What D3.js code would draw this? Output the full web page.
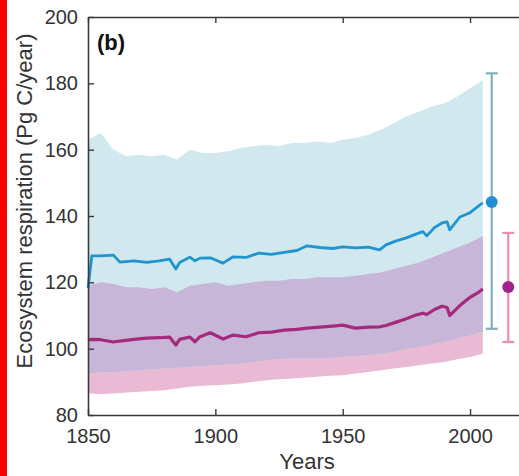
<!DOCTYPE html>
<html lang="en">
<head>
    <meta charset="UTF-8">
    <title>Ecosystem respiration</title>
    <script src="https://d3js.org/d3.v7.min.js"></script>
    <style>
        body { margin: 0; background: #fff; }
        svg { display: block; font-family: "Liberation Sans", Arial, sans-serif; }
        .tick text { fill: #333; font-size: 20px; }
    </style>
</head>
<body>
    <svg id="chart" width="519" height="476"></svg>

    <script>
        // band years (5-yr steps)
        const bandYears = [1850,1855,1860,1865,1870,1875,1880,1885,1890,1895,1900,1905,1910,1915,1920,1925,1930,1935,1940,1945,1950,1955,1960,1965,1970,1975,1980,1985,1990,1995,2000,2005];
        const blueUpper = [163,165,160,158,158.5,158,158.5,157,160,159,159,159.5,160.5,161,161.5,161,162,162,162.5,162,163,163.5,164.5,166,168,170,171.5,173,174,176,178.5,181];
        const blueLower = [92.5,92.8,93,93.2,93.5,93.8,94,94.2,94.5,94.8,95,95.2,95.5,96,96.5,96.8,97,97,97,97.2,97.5,97.8,98,98.5,99,99.8,100.5,101.2,102,103,104,105];
        const pinkUpper = [119,120,119.5,118.5,118.5,118,118.5,117,119,119.5,120,119,119.5,120,120.5,120.5,121,121,121.5,121.5,121.5,122,122.5,123,124,125,126,127.5,129,130.5,132,134];
        const pinkLower = [86.5,86.3,86.5,86.8,87,87.2,87.5,88,88.5,88.8,89,89.2,89.5,90,90.5,90.8,91,91.2,91.5,91.8,92,92.5,93,93.5,94,94.5,95,95.5,96,96.8,97.5,98.5];

        // mean lines
        const lineYears = [1850,1851.5,1855,1860,1862.5,1868,1873,1878,1882,1884.5,1886,1890,1892,1894,1898,1903,1907,1912,1917,1922,1927,1932,1936,1941,1946,1950,1955,1960,1964.5,1967,1971,1975,1979,1981.5,1983,1986,1989,1991,1992,1996,2000,2003,2005];
        const blueMean = [118.3,128,128,128.2,126.1,126.5,126,126.5,127,124,126,127.6,126.5,127.3,127.4,125.8,127.7,127.5,128.8,128.4,129,129.6,131,130.5,130.2,130.7,130.4,130.6,129.8,131.3,132.5,133.4,134.6,135.3,134,136.5,137.9,138.2,135.8,139.7,141,142.8,144];
        const purpleMean = [102.6,102.8,102.7,102,102.3,102.8,103.2,103.3,103.5,101.1,102.8,103.5,102.1,103.6,104.8,102.9,104.1,103.6,104.8,105,105.6,105.8,106.2,106.5,106.8,107.1,106.2,106.5,106.6,107,108,109,110.2,110.7,110.3,111.8,112.8,112.4,110,113,115.5,116.8,118];

        // error bars at the right
        const errYears = [2008.5, 2015];
        const errMid = [144.2, 118.6];
        const errLow = [106, 102];
        const errHigh = [183, 134.9];

        const xTicks = [1850, 1900, 1950, 2000];
        const yTicks = [80, 100, 120, 140, 160, 180, 200];

        const svg = d3.select('#chart');
        const plotLeft = 88, plotTop = 17, plotBottom = 415, plotRight = 521;

        const x = d3.scaleLinear().domain([1850, 2020]).range([plotLeft, plotRight]);
        const y = d3.scaleLinear().domain([80, 200]).range([plotBottom, plotTop]);

        // red strip down the left edge
        svg.append('rect').attr('x', 0).attr('y', 0).attr('width', 7).attr('height', 476).attr('fill', '#ff0000');

        const area = (lo, hi) => d3.area()
            .x((d, i) => x(bandYears[i]))
            .y0((d, i) => y(lo[i]))
            .y1((d, i) => y(hi[i]));

        // overlap of the two bands gets its own colour
        const ovLo = bandYears.map((d, i) => Math.max(blueLower[i], pinkLower[i]));
        const ovHi = bandYears.map((d, i) => Math.min(blueUpper[i], pinkUpper[i]));

        svg.append('path').datum(bandYears).attr('d', area(pinkLower, pinkUpper)).attr('fill', '#eab9d3');
        svg.append('path').datum(bandYears).attr('d', area(blueLower, blueUpper)).attr('fill', '#d0e8ee');
        svg.append('path').datum(bandYears).attr('d', area(ovLo, ovHi)).attr('fill', '#c8b6d8');

        const line = vals => d3.line()
            .x((d, i) => x(lineYears[i]))
            .y((d, i) => y(vals[i]));

        svg.append('path').datum(lineYears).attr('d', line(blueMean))
            .attr('fill', 'none').attr('stroke', '#1f94cf').attr('stroke-width', 2.8).attr('stroke-linejoin', 'round');
        svg.append('path').datum(lineYears).attr('d', line(purpleMean))
            .attr('fill', 'none').attr('stroke', '#a52a7c').attr('stroke-width', 3.2).attr('stroke-linejoin', 'round');

        // error bars
        const barColors = ['#7fb1bd', '#ea8fae'];
        const dotColors = ['#1f8fd6', '#a0228a'];
        errYears.forEach((yr, i) => {
            const cx = x(yr);
            const g = svg.append('g').attr('stroke', barColors[i]).attr('stroke-width', 2.2);
            g.append('line').attr('x1', cx).attr('x2', cx).attr('y1', y(errLow[i])).attr('y2', y(errHigh[i]));
            g.append('line').attr('x1', cx - 6).attr('x2', cx + 6).attr('y1', y(errLow[i])).attr('y2', y(errLow[i]));
            g.append('line').attr('x1', cx - 6).attr('x2', cx + 6).attr('y1', y(errHigh[i])).attr('y2', y(errHigh[i]));
            svg.append('circle').attr('cx', cx).attr('cy', y(errMid[i])).attr('r', 6).attr('fill', dotColors[i]);
        });

        // axes, matlab style ticks pointing in
        const axisColor = '#3a3a3a';
        const xAxis = svg.append('g').attr('transform', `translate(0,${plotBottom})`)
            .call(d3.axisBottom(x).tickValues(xTicks).tickFormat(d3.format('d')).tickSizeInner(-6).tickSizeOuter(0).tickPadding(14));
        const xTop = svg.append('g').attr('transform', `translate(0,${plotTop})`)
            .call(d3.axisTop(x).tickValues(xTicks).tickFormat('').tickSizeInner(-6).tickSizeOuter(0));
        const yAxis = svg.append('g').attr('transform', `translate(${plotLeft},0)`)
            .call(d3.axisLeft(y).tickValues(yTicks).tickSizeInner(-6).tickSizeOuter(0).tickPadding(10));
        [xAxis, xTop, yAxis].forEach(a => {
            a.select('.domain').attr('stroke', axisColor).attr('stroke-width', 1.6);
            a.selectAll('.tick line').attr('stroke', axisColor).attr('stroke-width', 1.4);
        });

        svg.append('text').attr('x', 97).attr('y', 50)
            .attr('font-size', 22).attr('font-weight', 'bold').attr('fill', '#111').text('(b)');

        svg.append('text').attr('x', 307).attr('y', 469).attr('text-anchor', 'middle')
            .attr('font-size', 22).attr('fill', '#333').text('Years');

        svg.append('text').attr('transform', 'translate(32,201) rotate(-90)').attr('text-anchor', 'middle')
            .attr('font-size', 22).attr('fill', '#333').text('Ecosystem respiration (Pg C/year)');
    </script>
</body>
</html>
